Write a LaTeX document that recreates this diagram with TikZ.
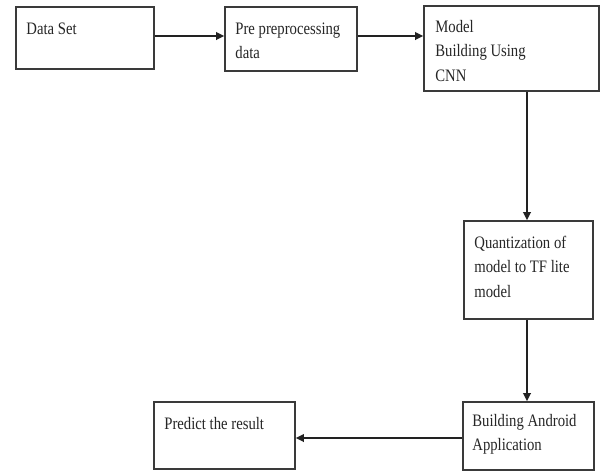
\documentclass[tikz,border=0pt]{standalone}
\usepackage{fontspec}
\setmainfont[FakeStretch=0.84]{Liberation Serif}
\usetikzlibrary{arrows.meta}
\definecolor{boxline}{HTML}{3A3A3A}
\definecolor{arrline}{HTML}{222222}
\tikzset{
  stepbox/.style={draw=boxline, line width=1.6pt, rectangle, inner sep=0pt, fill=white},
  boxtext/.style={anchor=base west, inner sep=0pt, align=left, text=black!85,
    font=\fontsize{17.5}{24.5}\selectfont},
  flow/.style={draw=arrline, line width=1.8pt, -{Triangle[length=8pt,width=7.5pt]}}
}
\begin{document}
\begin{tikzpicture}[x=1pt,y=-1pt]
\useasboundingbox[fill=white] (0,0) rectangle (600,472);
% boxes
\node[stepbox, minimum width=138pt, minimum height=62pt] (b1) at (85,38) {};
\node[stepbox, minimum width=132pt, minimum height=64pt] (b2) at (291,39) {};
\node[stepbox, minimum width=175pt, minimum height=85pt] (b3) at (511.5,48.5) {};
\node[stepbox, minimum width=129pt, minimum height=98pt] (b4) at (528.5,270) {};
\node[stepbox, minimum width=131pt, minimum height=68pt] (b5) at (528.5,436) {};
\node[stepbox, minimum width=141pt, minimum height=67pt] (b6) at (224.5,435.5) {};
% texts (anchor = baseline of the last line)
\node[boxtext] (t1) at ([shift={(11pt,-28pt)}]b1.north west) {Data Set};
\node[boxtext] (t2) at ([shift={(11pt,-52.5pt)}]b2.north west) {Pre preprocessing\\data};
\node[boxtext] (t3) at ([shift={(12pt,-76pt)}]b3.north west) {Model\\Building Using\\CNN};
\node[boxtext] (t4) at ([shift={(11pt,-77pt)}]b4.north west) {Quantization of\\model to TF lite\\model};
\node[boxtext] (t5) at ([shift={(10pt,-49.5pt)}]b5.north west) {Building Android\\Application};
\node[boxtext] (t6) at ([shift={(11pt,-28pt)}]b6.north west) {Predict the result};
% connectors
\draw[flow] ([yshift=2pt]b1.east) -- ([yshift=2pt]b1.east -| b2.west);
\draw[flow] ([yshift=3pt]b2.east) -- ([yshift=3pt]b2.east -| b3.west);
\draw[flow] ([xshift=-1.5pt]b4.north |- b3.south) -- ([xshift=-1.5pt]b4.north);
\draw[flow] ([xshift=-1.5pt]b4.south) -- ([xshift=-1.5pt]b4.south |- b5.north);
\draw[flow] ([yshift=-2pt]b5.west) -- ([yshift=-2pt]b5.west -| b6.east);
\end{tikzpicture}
\end{document}
